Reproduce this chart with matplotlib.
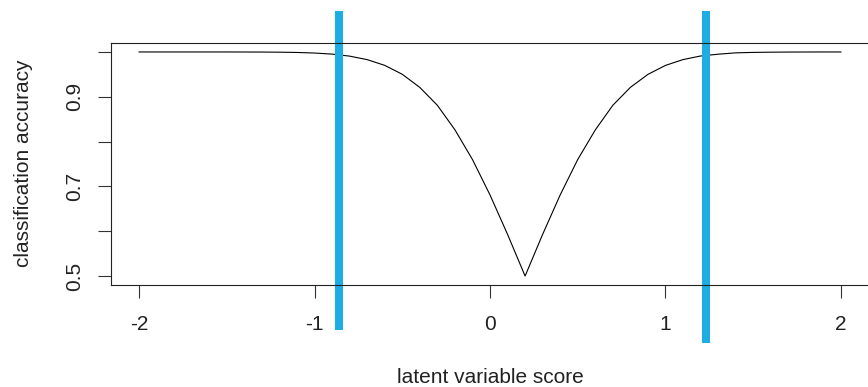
import matplotlib.pyplot as plt
import numpy as np

plt.rcParams['font.family'] = ['Liberation Sans', 'DejaVu Sans']
plt.rcParams['font.size'] = 15

# latent variable score grid and the classification accuracy
score = np.round(np.arange(-2.0, 2.01, 0.1), 1)
accuracy = [1.000, 1.000, 1.000, 1.000, 1.000, 1.000, 0.9999, 0.9998, 0.9995, 0.9989,
            0.9976, 0.9952, 0.9907, 0.9829, 0.9701, 0.9502, 0.9209, 0.8810, 0.8264, 0.760,
            0.681, 0.593, 0.500, 0.593, 0.681, 0.760, 0.826, 0.881, 0.921, 0.950,
            0.970, 0.983, 0.991, 0.995, 0.998, 0.999, 0.9995, 0.9998, 0.9999, 1.000,
            1.000]

# cut-off scores (blue lines)
cutoffs = [-0.86, 1.23]
cut_bottom = [-0.186, -0.240]   # axes fraction, lines run outside the box
cut_top = 1.132

xticks = [-2, -1, 0, 1, 2]
yticks = [0.5, 0.6, 0.7, 0.8, 0.9, 1.0]
ytick_labels = ['0.5', '', '0.7', '', '0.9', '']

fig = plt.figure(figsize=(8.68, 3.87), dpi=100)
ax = fig.add_axes([111 / 868, 102 / 387, 758 / 868, 242 / 387])

ax.plot(score, accuracy, color='black', lw=0.8)

for c, yb in zip(cutoffs, cut_bottom):
    ax.plot([c, c], [yb, cut_top], color='#1EADE3', lw=5.8,
            solid_capstyle='butt', transform=ax.get_xaxis_transform(), clip_on=False)

ax.set_xlim(-2.16, 2.16)
ax.set_ylim(0.48, 1.02)
ax.set_xticks(xticks)
ax.set_xticklabels([str(v) for v in xticks])
ax.set_yticks(yticks)
ax.set_yticklabels(ytick_labels, rotation=90, va='center')

for s in ax.spines.values():
    s.set_linewidth(0.8)
    s.set_color('#222222')
ax.tick_params(direction='out', length=9.4, width=0.8, color='#333333',
               labelcolor='#222222')
ax.tick_params(axis='x', pad=12.5)
ax.tick_params(axis='y', pad=10)

ax.set_xlabel('latent variable score', color='#222222')
ax.set_ylabel('classification accuracy', color='#222222')
ax.xaxis.set_label_coords(0.501, -0.343)
ax.yaxis.set_label_coords(-0.103, 0.504)

fig.savefig('out.png', dpi=100)
